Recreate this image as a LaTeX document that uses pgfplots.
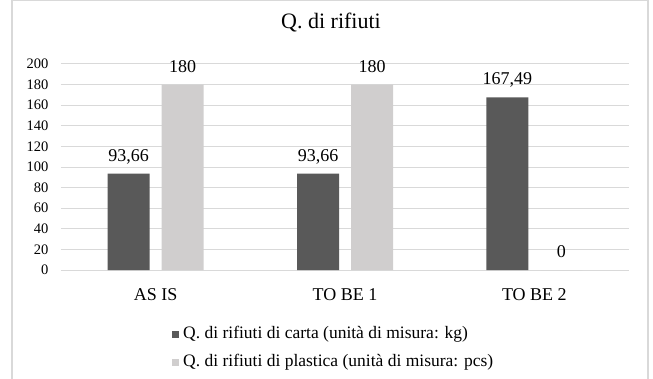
\documentclass[border=0pt]{standalone}
\usepackage{pgfplots}
\pgfplotsset{compat=1.18}
\usepackage{fontspec}
\setmainfont{Liberation Serif}
\definecolor{darkbar}{HTML}{595959}
\definecolor{lightbar}{HTML}{D0CECE}
\definecolor{gridc}{HTML}{D9D9D9}
\begin{document}
\begin{tikzpicture}
\path[use as bounding box] (0pt,0pt) rectangle (653pt,378pt);
\draw[gridc, line width=1.3pt] (12pt,-2pt) rectangle (648pt,377.2pt);
\begin{axis}[
  at={(61pt,108pt)}, anchor=south west, scale only axis,
  width=568pt, height=206pt,
  ybar=12pt, bar width=42pt,
  xmin=-0.5, xmax=2.5, ymin=0, ymax=200,
  xtick={0,1,2}, xticklabels={AS IS, TO BE 1, TO BE 2},
  ytick={0,20,...,200},
  axis line style={draw=none},
  ymajorgrids, grid style={gridc, line width=1pt},
  major tick length=0pt, tick style={draw=none},
  /pgf/number format/.cd, use comma, 1000 sep={}, assume math mode=true,
  /pgfplots/.cd,
  yticklabel style={font=\fontsize{14.5}{16}\selectfont, anchor=east, xshift=-9pt},
  xticklabel style={font=\fontsize{18}{20}\selectfont, anchor=base, yshift=-30pt},
  title={Q. di rifiuti},
  title style={font=\fontsize{22}{26}\selectfont, at={(0.5,1)}, anchor=base, yshift=29pt, xshift=-14pt},
  nodes near coords,
  every node near coord/.append style={font=\fontsize{18}{20}\selectfont, anchor=base, yshift=12.5pt, text=black},
  legend columns=1,
  legend cell align=left,
  legend style={draw=none, fill=none, at={(0.1954,-0.272)}, anchor=north west,
    inner sep=0pt, row sep=12pt,
    nodes={inner sep=0pt, text height=12pt, text depth=4pt, font=\fontsize{17.5}{19}\selectfont},
    /tikz/every odd column/.append style={column sep=4pt}},
  legend image code/.code={\fill[#1] (0pt,-3.5pt) rectangle (7pt,3.5pt);},
]
\addplot[fill=darkbar, draw=none] coordinates {(0,93.66) (1,93.66) (2,167.49)};
\addplot[fill=lightbar, draw=none] coordinates {(0,180) (1,180) (2,0)};
\legend{Q. di rifiuti di carta (unità di misura: kg), Q. di rifiuti di plastica (unità di misura: pcs)}
\end{axis}
\end{tikzpicture}
\end{document}
